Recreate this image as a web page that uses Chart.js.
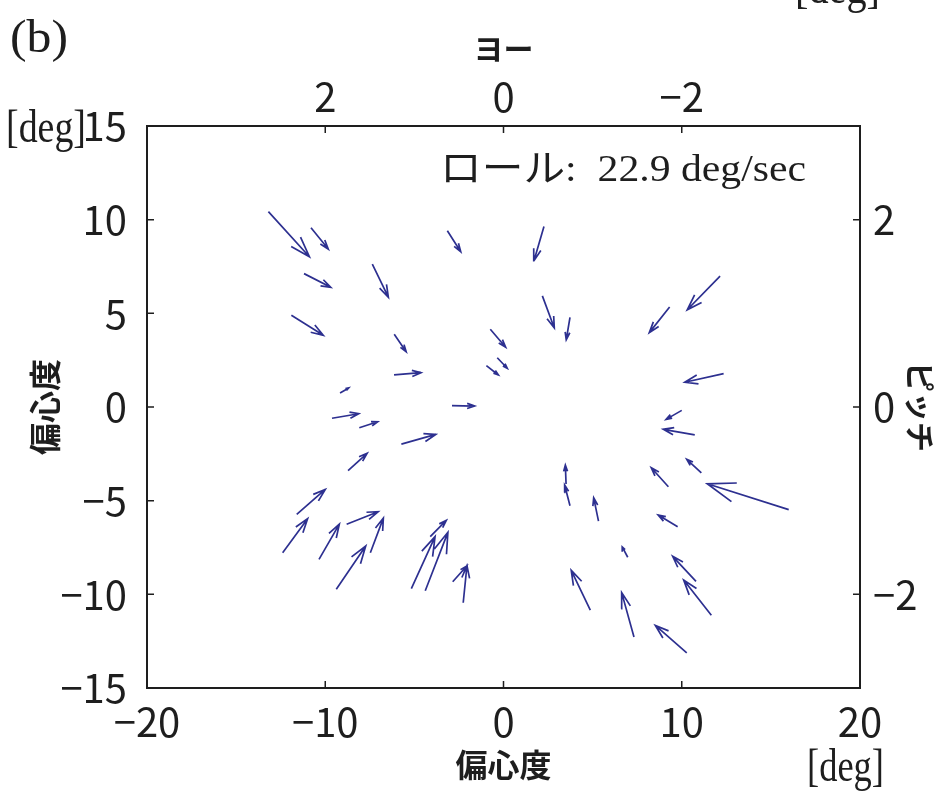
<!DOCTYPE html>
<html>
<head>
<meta charset="utf-8">
<script src="https://cdn.jsdelivr.net/npm/chart.js@4.4.1/dist/chart.umd.min.js"></script>
<style>
  html, body { margin: 0; padding: 0; background: #ffffff; }
  #wrap { width: 938px; height: 794px; position: relative; }
</style>
</head>
<body>
<div id="wrap"><canvas id="c" width="938" height="794"></canvas></div>
<script>
// ---- data ----
const xTicks = [-20, -10, 0, 10, 20];
const yTicks = [-15, -10, -5, 0, 5, 10, 15];
const yawTicks = [2, 0, -2];
const pitchTicks = [2, 0, -2];
const rollRate = 22.9;

const tailX = [-13.19,-10.80,-3.15,-11.19,-7.36,-11.90,-6.13,-6.14,-9.17,-0.74,-0.35,-0.96,2.27,2.18,3.73,12.15,9.32,12.35,-2.89,-9.62,-8.09,-5.73,-8.72,-11.60,-12.39,-10.35,-8.80,-7.47,-9.38,-4.11,-5.17,-4.39,-2.26,-2.85,10.00,10.73,11.10,9.25,16.00,3.51,3.73,5.33,9.77,6.97,10.80,11.66,4.87,7.32,10.28];
const tailY = [10.43,9.57,9.41,7.12,7.63,4.90,3.88,1.71,0.75,4.15,2.63,2.21,9.63,5.93,4.79,6.99,5.34,1.78,0.07,-0.60,-1.11,-1.98,-3.40,-5.73,-7.78,-8.13,-6.26,-7.78,-9.73,-6.92,-9.70,-9.81,-10.45,-9.33,-0.18,-1.49,-3.51,-4.26,-5.48,-4.11,-5.27,-6.09,-6.39,-8.02,-9.31,-11.12,-10.84,-12.28,-13.12];
const flowU = [2.30,0.97,0.75,1.50,0.90,1.79,0.67,1.51,0.49,0.86,0.56,0.67,-0.56,0.67,-0.21,-1.84,-1.14,-2.18,1.27,1.50,1.03,1.93,1.07,1.60,1.40,1.14,1.77,0.73,1.65,0.90,1.33,1.27,0.21,0.79,-0.88,-1.77,-0.82,-0.96,-4.57,-0.04,-0.30,-0.27,-1.09,-0.31,-1.31,-1.55,-1.07,-0.69,-1.76];
const flowV = [-2.41,-1.14,-1.12,-0.73,-1.77,-1.07,-0.93,0.12,0.27,-0.96,-0.56,-0.50,-1.82,-1.71,-1.20,-1.80,-1.37,-0.46,-0.02,0.24,0.32,0.52,0.93,1.33,1.82,1.88,0.67,1.85,2.31,0.87,2.78,3.12,1.98,0.84,-0.48,0.30,0.72,1.02,1.38,1.01,1.11,1.24,0.62,0.55,1.34,1.88,2.12,2.37,1.46];

// ---- build quiver polyline (shaft + head), gaps between pieces ----
const headAlpha = 0.33, headBeta = 0.33;
const quiverPts = [];
for (let i = 0; i < tailX.length; i++) {
  const x = tailX[i], y = tailY[i], u = flowU[i], v = flowV[i];
  const hx = x + u, hy = y + v;
  quiverPts.push({x: x, y: y}, {x: hx, y: hy}, {x: hx, y: null});
  quiverPts.push(
    {x: hx - headAlpha * (u + headBeta * v), y: hy - headAlpha * (v - headBeta * u)},
    {x: hx, y: hy},
    {x: hx - headAlpha * (u - headBeta * v), y: hy - headAlpha * (v + headBeta * u)},
    {x: hx, y: null}
  );
}

const TICK_FONT = { family: '"Liberation Sans Narrow", "Noto Sans CJK JP", sans-serif', size: 40 };
const TITLE_FONT = { family: '"Noto Sans CJK JP", sans-serif', size: 32, weight: 'bold' };
const INK = '#1e1e1e';
const fmt = v => String(v).replace('-', '\u2212');
const fixTicks = arr => (s => { s.ticks = arr.map(v => ({ value: v })); });

function drawFitted(ctx, text, x, y, font, width) {
  ctx.save();
  ctx.font = font;
  ctx.textBaseline = 'middle';
  ctx.textAlign = 'left';
  ctx.fillStyle = INK;
  const w = ctx.measureText(text).width;
  ctx.translate(x, y);
  ctx.scale(width / w, 1);
  ctx.fillText(text, 0, 0);
  ctx.restore();
}

const decor = {
  id: 'decor',
  afterDraw(chart) {
    const ctx = chart.ctx;
    // inward tick marks
    ctx.save();
    ctx.strokeStyle = INK;
    ctx.lineWidth = 1.5;
    const L = 7;
    const sx = chart.scales.x, sx2 = chart.scales.x2, sy = chart.scales.y, sy2 = chart.scales.y2;
    const a = chart.chartArea;
    ctx.beginPath();
    sx.ticks.forEach(t => { const p = sx.getPixelForValue(t.value); ctx.moveTo(p, a.bottom); ctx.lineTo(p, a.bottom - L); });
    sx2.ticks.forEach(t => { const p = sx2.getPixelForValue(t.value); ctx.moveTo(p, a.top); ctx.lineTo(p, a.top + L); });
    sy.ticks.forEach(t => { const p = sy.getPixelForValue(t.value); ctx.moveTo(a.left, p); ctx.lineTo(a.left + L, p); });
    sy2.ticks.forEach(t => { const p = sy2.getPixelForValue(t.value); ctx.moveTo(a.right, p); ctx.lineTo(a.right - L, p); });
    ctx.stroke();
    ctx.restore();

    const serif = '"Liberation Serif", "DejaVu Serif", serif';
    drawFitted(ctx, '(b)', 10, 40, '46px ' + serif, 58);
    drawFitted(ctx, '[deg]', 6, 130, '46px ' + serif, 80);
    drawFitted(ctx, '[deg]', 795, -9, '46px ' + serif, 85);
    drawFitted(ctx, '[deg]', 807, 769, '46px ' + serif, 77);
    drawFitted(ctx, 'ロール:  ' + rollRate.toFixed(1) + ' deg/sec', 440, 171,
      '38px "Liberation Serif", "Noto Sans CJK JP", serif', 366);
  }
};

new Chart(document.getElementById('c'), {
  type: 'scatter',
  data: {
    datasets: [{
      type: 'line',
      data: quiverPts,
      xAxisID: 'x',
      yAxisID: 'y',
      showLine: true,
      spanGaps: false,
      borderColor: '#2d3090',
      borderWidth: 1.7,
      pointRadius: 0,
      pointHoverRadius: 0,
      fill: false,
      tension: 0
    }]
  },
  options: {
    responsive: false,
    animation: false,
    events: [],
    layout: { padding: 0 },
    plugins: { legend: { display: false }, tooltip: { enabled: false } },
    scales: {
      x: {
        type: 'linear', position: 'bottom', min: -20, max: 20,
        afterBuildTicks: fixTicks(xTicks),
        afterFit: s => { s.height = 106; },
        grid: { display: false, drawTicks: false },
        border: { display: true, color: INK, width: 2 },
        ticks: { padding: 10, font: TICK_FONT, color: INK, callback: fmt, maxRotation: 0, autoSkip: false },
        title: { display: true, text: '偏心度', font: TITLE_FONT, color: INK, padding: { top: 0, bottom: 10 } }
      },
      x2: {
        type: 'linear', position: 'top', min: -4, max: 4, reverse: true,
        afterBuildTicks: fixTicks(yawTicks),
        afterFit: s => { s.height = 126; },
        grid: { display: false, drawTicks: false },
        border: { display: true, color: INK, width: 2 },
        ticks: { padding: 5, font: TICK_FONT, color: INK, callback: fmt, maxRotation: 0, autoSkip: false },
        title: { display: true, text: 'ヨー', font: { family: '"Noto Sans CJK JP", sans-serif', size: 30, weight: 'bold' }, color: INK, padding: { top: 31, bottom: 0 } }
      },
      y: {
        type: 'linear', position: 'left', min: -15, max: 15,
        afterBuildTicks: fixTicks(yTicks),
        afterFit: s => { s.width = 147; },
        grid: { display: false, drawTicks: false },
        border: { display: true, color: INK, width: 2 },
        ticks: { padding: 20, font: TICK_FONT, color: INK, callback: fmt, autoSkip: false },
        title: { display: true, text: '偏心度', font: TITLE_FONT, color: INK, padding: { top: 26, bottom: 0 } }
      },
      y2: {
        type: 'linear', position: 'right', min: -3, max: 3,
        afterBuildTicks: fixTicks(pitchTicks),
        afterFit: s => { s.width = 78; },
        grid: { display: false, drawTicks: false },
        border: { display: true, color: INK, width: 2 },
        ticks: { padding: 13, font: TICK_FONT, color: INK, callback: fmt, autoSkip: false },
        title: { display: true, text: 'ピッチ', font: { family: '"Noto Sans CJK JP", sans-serif', size: 30, weight: 'bold' }, color: INK, padding: { top: 0, bottom: 0 } }
      }
    }
  },
  plugins: [decor]
});
</script>
</body>
</html>
